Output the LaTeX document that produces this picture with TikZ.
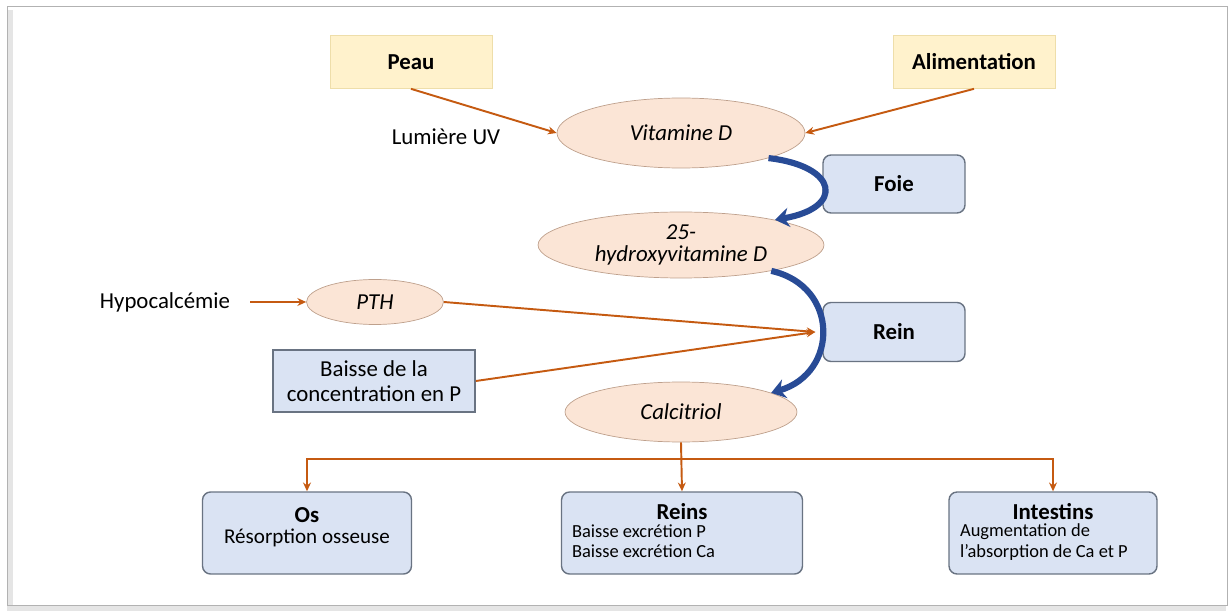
\documentclass[tikz,border=0pt]{standalone}
\usepackage{fontspec}
\setmainfont{Carlito}
\usetikzlibrary{shapes,arrows.meta}
\definecolor{srcfill}{RGB}{255,242,204}
\definecolor{srcline}{RGB}{238,222,170}
\definecolor{ellfill}{RGB}{251,229,214}
\definecolor{ellline}{RGB}{190,160,140}
\definecolor{boxfill}{RGB}{218,227,243}
\definecolor{boxline}{RGB}{105,115,130}
\definecolor{flow}{RGB}{197,90,17}
\definecolor{bend}{RGB}{40,75,150}
\tikzset{source/.style={draw=srcline, fill=srcfill, minimum width=3.24cm,
         minimum height=1.06cm, font=\bfseries},
         molecule/.style={ellipse, draw=ellline, fill=ellfill, inner sep=0pt,
         font=\itshape, align=center},
         organ/.style={draw=boxline, fill=boxfill, rounded corners=0.16cm, line width=0.8pt},
         organtext/.style={inner sep=1pt},
         flowarrow/.style={draw=flow, line width=1.1pt, -{Stealth[length=5pt,width=4.5pt]}},
         bendarrow/.style={draw=bend, line width=3.5pt, -{Stealth[length=8pt,width=11pt]}}}

\begin{document}
\fontsize{13}{15}\selectfont
\begin{tikzpicture}[x=0.02cm, y=-0.02cm]
    \useasboundingbox (0,0) rectangle (1231,611);
    \draw[black!10, line width=3pt] (10,10) -- (10,608) -- (1226,608);
    \draw[black!30] (7,6) rectangle (1227,605);

    % sources
    \node[source] (peau) at (411,62) {Peau};
    \node[source] (alim) at (974,62) {Alimentation};
    \node (uv) at (446,137) {Lumière UV};

    % molecules
    \node[molecule, minimum width=4.96cm, minimum height=1.4cm] (vitd) at (681,133) {Vitamine D};
    \node[molecule, minimum width=5.72cm, minimum height=1.32cm,
          font=\itshape\fontsize{13}{13}\selectfont] (hyd) at (681,245) {25-\\hydroxyvitamine D};
    \node[molecule, minimum width=4.64cm, minimum height=1.2cm] (calc) at (681,412) {Calcitriol};
    \node[molecule, minimum width=2.74cm, minimum height=0.9cm] (pth) at (375,302) {PTH};
    \node (hypo) at (165,302) {Hypocalcémie};
    \node[draw=boxline, fill=boxfill, line width=1pt, minimum width=4.04cm, minimum height=1.24cm,
          align=center, font=\fontsize{13}{14}\selectfont] (baisse) at (374,381)
          {Baisse de la\\concentration en P};

    % organes
    \node[organ, minimum width=2.84cm, minimum height=1.16cm, font=\bfseries] (foie) at (894,184) {Foie};
    \node[organ, minimum width=2.84cm, minimum height=1.18cm, font=\bfseries] (rein) at (894,332) {Rein};

    \node[organ, minimum width=4.18cm, minimum height=1.64cm] (os) at (307,533) {};
    \node[organ, minimum width=4.82cm, minimum height=1.64cm] (reins) at (682,533) {};
    \node[organ, minimum width=4.16cm, minimum height=1.64cm] (intes) at (1053,533) {};
    \node[organtext, font=\bfseries] (ost) at (307,515) {Os};
    \node[organtext, font=\fontsize{12}{13}\selectfont] (osb) at (307,538) {Résorption osseuse};
    \node[organtext, font=\bfseries] (reinst) at (682,512) {Reins};
    \node[organtext, anchor=west, align=left, font=\fontsize{10.5}{11.5}\selectfont] (reinsb) at (570,541)
          {Baisse excrétion P\\Baisse excrétion Ca};
    \node[organtext, font=\bfseries] (intest) at (1053,512) {Intestins};
    \node[organtext, anchor=west, align=left, font=\fontsize{10.5}{11.5}\selectfont] (intesb) at (958,542)
          {Augmentation de\\l'absorption de Ca et P};

    % fleches
    \draw[flowarrow] (peau.south) -- (vitd.west);
    \draw[flowarrow] (alim.south) -- (vitd.east);
    \draw[bendarrow] (vitd.-16) .. controls +(70,8) and +(70,-12) .. (hyd.15);
    \draw[bendarrow] (hyd.-16) .. controls +(68,15) and +(68,-20) .. (calc.12);

    \coordinate (reinin) at ([xshift=-0.14cm]rein.west);
    \draw[flowarrow, shorten <=7pt] (hypo.east) -- (pth.west);
    \draw[flowarrow] (pth.east) -- (reinin);
    \draw[flowarrow] (baisse.east) -- (reinin);

    \coordinate (split) at (681,459);
    \draw[flowarrow] (calc.south) -- (reins.north);
    \draw[flowarrow] (split) -| (os.north);
    \draw[flowarrow] (split) -| (intes.north);
\end{tikzpicture}
\end{document}
